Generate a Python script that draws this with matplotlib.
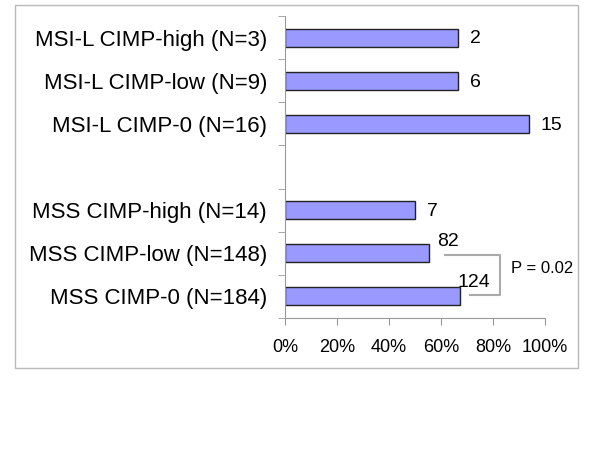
import matplotlib.pyplot as plt
import numpy as np
from matplotlib.patches import Rectangle

plt.rcParams['font.family'] = ['Liberation Sans', 'DejaVu Sans']

labels = ['MSI-L CIMP-high (N=3)', 'MSI-L CIMP-low (N=9)', 'MSI-L CIMP-0 (N=16)', '',
          'MSS CIMP-high (N=14)', 'MSS CIMP-low (N=148)', 'MSS CIMP-0 (N=184)']
counts = [2, 6, 15, None, 7, 82, 124]
totals = [3, 9, 16, None, 14, 148, 184]
xticks = [0, 20, 40, 60, 80, 100]

fig = plt.figure(figsize=(6, 4.5), dpi=100)
fig.patches.append(Rectangle((15 / 600, 1 - 368 / 450), 563 / 600, 363 / 450,
                             transform=fig.transFigure, fill=False,
                             edgecolor='#b8b8b8', linewidth=1))
ax = fig.add_axes([285 / 600, 1 - 318 / 450, 260 / 600, 302 / 450])

pos = np.arange(len(labels))
for i, (c, n) in enumerate(zip(counts, totals)):
    if c is None:
        continue
    pct = 100.0 * c / n
    ax.barh(i, pct, height=0.42, color='#9999ff', edgecolor='#222222', linewidth=1)

# count labels (Excel-style, two nudged by hand)
for i, (c, n) in enumerate(zip(counts, totals)):
    if c is None:
        continue
    pct = 100.0 * c / n
    if i == 5:
        ax.text(pct + 3, i - 0.28, str(c), fontsize=14, va='center', ha='left')
    elif i == 6:
        ax.text(pct - 1.2, i - 0.33, str(c), fontsize=14, va='center', ha='left')
    else:
        ax.text(pct + 4.5, i + 0.03, str(c), fontsize=14, va='center', ha='left')

# significance bracket
ax.plot([61.5, 82.7, 82.7, 71.2], [5.04, 5.04, 5.97, 5.97], color='#aaaaaa', lw=1.5,
        clip_on=False)
ax.text(87, 5.36, 'P = 0.02', fontsize=12, va='center', ha='left')

ax.set_xlim(0, 100)
ax.set_ylim(len(labels) - 0.5, -0.5)
ax.set_xticks(xticks)
ax.set_xticklabels([f'{t}%' for t in xticks], fontsize=13)
ax.set_yticks(pos)
ax.set_yticklabels(labels, fontsize=16)
ax.set_yticks(np.arange(len(labels) + 1) - 0.5, minor=True)
ax.tick_params(axis='y', which='major', length=0, pad=13)
ax.tick_params(axis='y', which='minor', length=5, color='#999999', direction='out')
ax.tick_params(axis='x', length=5, color='#999999', pad=10)

for s in ['top', 'right']:
    ax.spines[s].set_visible(False)
for s in ['left', 'bottom']:
    ax.spines[s].set_color('#999999')

fig.savefig('out.png', dpi=100)
